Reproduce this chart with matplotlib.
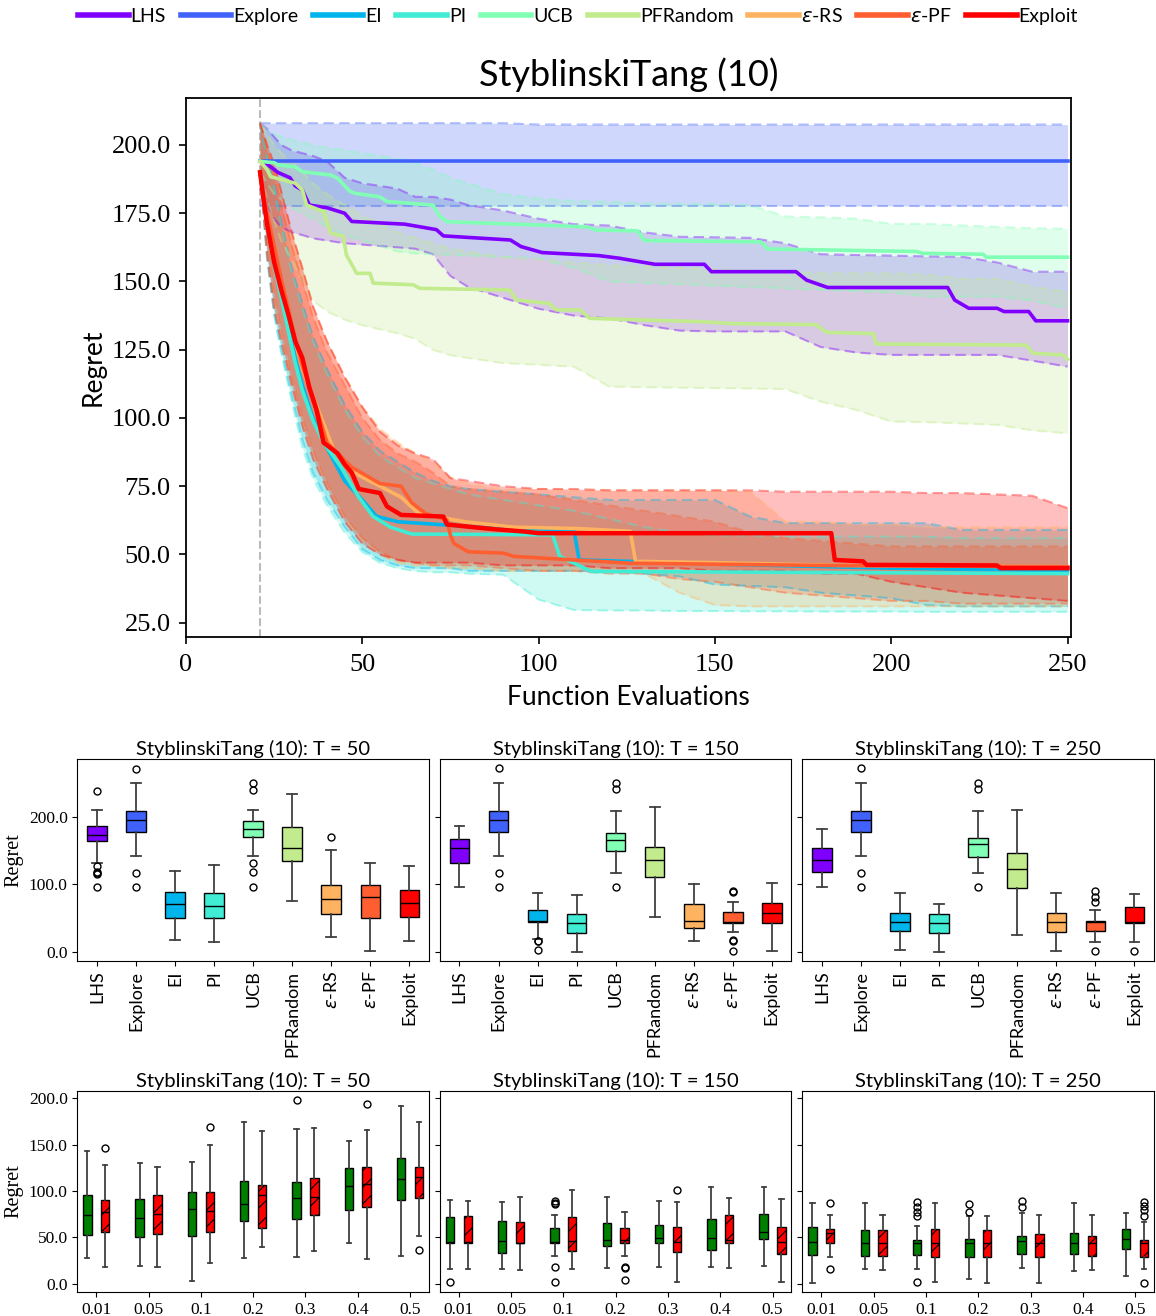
import numpy as np
import matplotlib
matplotlib.use('Agg')
import matplotlib.pyplot as plt
from matplotlib.lines import Line2D
from matplotlib.ticker import FormatStrFormatter

plt.rcParams['font.family'] = 'Liberation Serif'
plt.rcParams['hatch.linewidth'] = 0.8
SANS = 'Lato'

METHODS = ['LHS', 'Explore', 'EI', 'PI', 'UCB', 'PFRandom',
           r'$\epsilon$-RS', r'$\epsilon$-PF', 'Exploit']

# ---- median regret curves (knots) ----
LHS_X = [21, 23, 26, 29.5, 31, 33, 35, 40, 45, 47, 62, 71, 73, 92, 95, 101, 117, 123, 133, 147,
         149, 173, 176, 182, 216, 218, 222, 230, 232, 239, 241, 250]
LHS_MED = [194, 193, 190, 188, 185, 183.5, 178, 177, 175, 172, 171, 169, 166.7, 165.2, 162.8, 160.6,
           159.5, 158.5, 156.3, 156.3, 153.6, 153.6, 150.5, 147.8, 147.8, 143.2, 140.2, 140.2, 139,
           139, 135.6, 135.6]
EXPLORE_X = [21, 250]
EXPLORE_MED = [194, 194]
EI_X = [21, 23, 25, 27, 29, 31, 33, 36, 40, 45, 50, 54, 60, 83, 110, 111.5, 125, 150, 200, 250]
EI_MED = [190, 172, 158, 146, 134, 122, 112, 100, 89, 77, 70, 64, 62, 60, 59, 48, 47.5, 46.5, 45, 44]
PI_X = [21, 23, 25, 27, 29, 31, 33, 36, 39, 44, 49, 53, 58, 64, 104, 106, 112, 115, 250]
PI_MED = [190, 170, 156, 144, 132, 120, 110, 99, 91, 82, 71, 64, 60, 57.5, 57.2, 49.3, 45.6, 43.8, 43]
UCB_X = [21, 25, 26, 31, 33, 41, 43, 46.5, 48, 55, 57, 70, 72, 74, 114, 116, 128, 130, 163, 165,
         207, 209, 226, 227, 250]
UCB_MED = [194, 193.5, 192.7, 192, 190.2, 189, 187.8, 183, 182.3, 181, 179.3, 178, 173.8, 171.9, 170,
           168.9, 168.5, 165, 164.5, 161.9, 161, 160.3, 160, 158.9, 158.9]
PFR_X = [21, 23, 24, 31, 33, 34.2, 39, 41, 44.6, 45.5, 48.4, 52.2, 53.1, 64.4, 66.3, 91.8, 93.7, 103,
         105, 111.7, 114.5, 145.7, 155, 178.7, 181.6, 194.9, 195.8, 238.3, 240.2, 248.7, 250]
PFR_MED = [194, 191, 188.4, 186, 183.5, 178, 175.6, 167.7, 166.5, 159.7, 153, 153, 149.4, 148.8, 147.5,
           146.9, 143.2, 142, 139.6, 139.6, 136.5, 135.3, 134.6, 134.2, 131.4, 130.9, 127.1, 126.7,
           123.7, 123.1, 121.5]
ERS_X = [21, 23, 25, 27, 29, 31, 33, 36, 39, 42, 49, 55, 61, 66, 79, 93, 111, 126, 127.5, 150, 185, 250]
ERS_MED = [190, 174, 162, 150, 139, 128, 118, 108, 98, 88, 79, 75, 71, 65, 62, 60, 59.5, 58.5, 47.5,
           47, 46, 45.5]
EPF_X = [21, 23, 25, 27, 29, 31, 33, 36, 40, 47, 55, 61, 64, 68, 74, 75, 76, 80, 90, 93, 126, 180, 250]
EPF_MED = [190, 175, 163, 151, 140, 129, 119, 108, 91, 82, 76, 75, 69, 65, 62.7, 57, 54, 51, 50.5,
           49.3, 46.8, 46, 45.5]
EXPLOIT_X = [21, 22, 23, 25, 27, 29, 31, 33, 35, 37, 39, 41, 43, 45, 47, 49, 55, 57, 61, 73, 74, 80,
             88, 96, 100, 183, 184, 192, 193, 230, 231, 250]
EXPLOIT_MED = [190, 180, 171, 157, 147, 138, 128, 122, 111, 103, 91, 89, 87, 83, 80, 74, 72.5, 67.6,
               64.5, 63.9, 61, 60.2, 59.2, 58.4, 57.8, 57.8, 48, 47.5, 46.2, 46, 45, 45]

# ---- quartile bands ----
BAND_X = [21, 23, 25, 27, 30, 33, 36, 40, 45, 50, 55, 60, 65, 70, 75, 80, 90, 100, 110, 120, 130,
          140, 150, 160, 170, 180, 190, 200, 210, 220, 230, 240, 250]
LHS_LO = [184, 178, 173, 170, 168, 167, 165.8, 165, 164, 163.5, 163, 162.5, 162, 160, 152, 148, 144,
          140, 137.5, 136.5, 134, 132, 131.7, 131.7, 131.7, 126, 124, 123.1, 123.1, 123.1, 123.1, 121, 118.8]
LHS_HI = [208, 206, 203, 200, 198, 197, 196, 194, 188, 186, 185, 184, 181, 181, 180, 178, 176, 173,
          171, 170.5, 168, 166.4, 166.2, 166, 164, 160, 159.7, 159.5, 159.2, 159.1, 157, 153.6, 153.6]
EXPLORE_LO = [177.7, 177.7, 177.7, 177.7, 177.7, 177.7, 177.7, 177.7, 177.7, 177.7, 177.7, 177.7,
              177.7, 177.7, 177.7, 177.7, 177.7, 177.7, 177.7, 177.7, 177.7, 177.7, 177.7, 177.7,
              177.7, 177.7, 177.7, 177.7, 177.7, 177.7, 177.7, 177.7, 177.7]
EXPLORE_HI = [208, 208, 208, 208, 208, 208, 208, 208, 208, 208, 208, 208, 208, 208, 208, 208, 208,
              207.5, 207.5, 207.5, 207.5, 207.5, 207.5, 207.5, 207.5, 207.5, 207.5, 207.5, 207.5,
              207.5, 207.5, 207.5, 207.5]
EI_LO = [190, 158, 138, 125, 108, 92, 80, 70, 60, 52, 48, 46, 45, 45, 45, 44, 44, 44, 44, 44, 43, 42,
         39, 38.5, 38, 36, 35, 34, 31.5, 31, 31, 31, 31]
EI_HI = [208, 195, 185, 172, 155, 142, 130, 118, 105, 95, 88, 84, 80, 77, 75, 74, 73, 72, 71, 70, 70,
         70, 70, 63.9, 61.5, 61.5, 61.5, 61.5, 61.5, 59, 59, 59, 59]
PI_LO = [190, 160, 138, 124, 106, 89, 78, 68, 58, 51, 47, 45, 44, 43.5, 43.5, 43, 42.6, 33.5, 29.7,
         29.5, 29.5, 29.3, 29.3, 29.2, 29.2, 29.1, 29.1, 29.1, 29, 29, 29, 29, 29]
PI_HI = [208, 195, 184, 170, 153, 140, 128, 116, 103, 93, 86, 82, 78, 76, 74, 72, 70, 68, 66, 63, 60,
         58, 57, 57, 56.5, 56.5, 56.5, 56.5, 56.5, 56, 56, 56, 56]
UCB_LO = [190, 186, 182, 180, 177, 175, 173, 170, 167, 165, 163, 161, 160.3, 160, 159.8, 159.5, 159,
          158.5, 155, 150, 149.5, 149, 148.5, 148, 147.5, 147, 146.5, 146, 144.5, 144.5, 144.5, 143, 140.2]
UCB_HI = [208, 206, 204, 203, 201.8, 201, 200, 199, 198.2, 197, 196, 195, 193.5, 191, 188, 186, 182,
          180.5, 179.5, 179.2, 178.6, 178.5, 178.4, 178, 173.8, 173.5, 173, 171.1, 171.1, 170.5, 170,
          169.5, 169.3]
PFR_LO = [190, 180, 172, 165, 158, 150, 143, 139, 136, 134, 132.5, 131, 129, 125, 123, 122, 120.1,
          119.5, 118.8, 111.5, 111.3, 111.1, 111, 110.8, 110.6, 106, 103, 98.7, 98.5, 98, 97.5, 95.5, 94.4]
PFR_HI = [208, 204, 200, 197, 194, 190, 186, 182, 178, 174, 171, 168, 166, 164, 162, 161, 159, 158,
          157, 156, 155.5, 155, 154.5, 154, 153.5, 153, 153, 153, 152.5, 151, 151, 148, 146.3]
ERS_LO = [190, 162, 142, 130, 112, 98, 86, 75, 63, 55, 50, 47, 46, 46, 45, 45, 44, 44, 44, 44, 43, 36,
          31.5, 31, 31, 31, 31, 31, 31, 31, 31, 31, 31]
ERS_HI = [208, 200, 192, 182, 167, 154, 140, 128, 115, 104, 96, 91, 87, 84, 78, 76, 74, 74, 73.5,
          73.5, 73.5, 73.5, 73.5, 73, 62, 62, 61, 61, 60, 60, 60, 60, 60]
EPF_LO = [190, 165, 145, 132, 115, 100, 88, 76, 64, 56, 51, 48, 47, 46, 46, 46, 45, 44, 44, 43, 43,
          41, 40, 38, 36, 35, 34, 33, 33, 32, 32, 32, 32]
EPF_HI = [208, 198, 190, 178, 163, 150, 137, 124, 112, 100, 92, 87, 84, 80, 75, 74, 73, 72, 70, 68,
          66, 64, 62, 58, 56, 55, 54, 53, 53, 53, 53, 53, 53]
EXPLOIT_LO = [190, 160, 140, 128, 112, 97, 85, 74, 62, 54, 50, 48, 47, 47, 47, 47, 46, 46, 46, 45, 45,
              45, 44, 44, 44, 43, 43, 40, 38, 36, 35, 34, 33]
EXPLOIT_HI = [208, 200, 193, 183, 168, 155, 141, 128, 115, 104, 95, 90, 87, 85, 78, 77, 75, 74, 74,
              73.5, 73.5, 73.5, 73.5, 73.5, 73, 73, 73, 73, 72.5, 72.5, 72, 71.5, 67]

# ---- box plots per method at T = 50, 150, 250 ----
T_VALUES = [50, 150, 250]
T50_MED = [172.5, 195.1, 71.3, 68.3, 181.3, 153.3, 79.1, 81.1, 73.2]
T50_Q1 = [164.1, 177.9, 50.1, 51.1, 170.5, 134.2, 57.0, 51.1, 52.6]
T50_Q3 = [186.7, 208.8, 88.9, 87.0, 193.6, 185.3, 99.8, 99.3, 92.4]
T50_WLO = [132.2, 142.0, 18.2, 15.7, 142.0, 76.2, 22.6, 2.5, 16.7]
T50_WHI = [209.8, 249.1, 120.4, 128.7, 209.8, 232.9, 150.9, 131.2, 127.8]
T50_FLIERS = [[238.3, 127.3, 118.9, 116.5, 115.0, 96.8], [270.8, 117.4, 96.8], [], [],
              [249.1, 239.3, 131.2, 117.9, 96.8], [], [169.5], [], []]
T150_MED = [153.8, 195.1, 45.7, 43.2, 165.1, 135.6, 46.7, 44.2, 57.5]
T150_Q1 = [131.2, 177.9, 44.2, 28.5, 149.9, 111.1, 35.4, 43.2, 43.7]
T150_Q3 = [166.6, 207.9, 61.9, 57.0, 176.4, 155.8, 71.7, 60.0, 72.2]
T150_WLO = [96.8, 142.0, 19.0, 0.0, 117.4, 52.6, 16.2, 30.0, 2.5]
T150_WHI = [186.7, 249.1, 88.0, 85.0, 207.9, 214.7, 101.2, 74.7, 101.7]
T150_FLIERS = [[], [271.3, 117.4, 96.8], [17.2, 16.5, 3.4], [], [250.1, 240.3, 96.8], [], [],
               [90.0, 88.5, 18.7, 17.2, 2.5], []]
T250_MED = [135.6, 195.1, 45.2, 43.2, 159.2, 122.4, 44.7, 44.2, 44.2]
T250_Q1 = [118.9, 177.9, 31.4, 28.5, 140.5, 94.3, 30.5, 31.4, 43.7]
T250_Q3 = [153.3, 207.9, 58.5, 57.0, 169.0, 145.9, 58.5, 46.7, 67.3]
T250_WLO = [96.8, 142.0, 3.4, 0.0, 117.4, 25.6, 2.5, 15.7, 15.2]
T250_WHI = [182.3, 249.1, 88.0, 71.7, 207.9, 209.3, 88.0, 61.9, 86.0]
T250_FLIERS = [[], [271.3, 117.4, 96.8], [], [], [250.1, 240.3, 96.8], [], [],
               [90.0, 82.0, 74.2, 2.5], [2.5]]

# ---- paired box plots over epsilon ----
EPS_LABELS = ['0.01', '0.05', '0.1', '0.2', '0.3', '0.4', '0.5']
G50_MED = [73.7, 70.5, 80.9, 85.6, 92.1, 105.8, 112.6]
G50_Q1 = [52.2, 50.0, 51.1, 68.0, 69.4, 79.9, 90.6]
G50_Q3 = [96.0, 91.0, 98.6, 111.2, 109.4, 125.2, 136.0]
G50_WLO = [27.3, 19.1, 2.5, 28.1, 29.1, 43.9, 29.9]
G50_WHI = [143.5, 129.9, 130.9, 174.8, 166.9, 153.6, 191.9]
G50_FLIERS = [[], [], [], [], [198.2], [], []]
R50_MED = [77.7, 75.2, 78.4, 96.0, 93.9, 107.2, 114.7]
R50_Q1 = [55.4, 53.2, 56.1, 59.7, 73.7, 82.4, 92.8]
R50_Q3 = [90.3, 96.0, 98.9, 106.1, 114.4, 125.5, 125.5]
R50_WLO = [17.6, 17.6, 22.7, 39.9, 34.9, 27.0, 51.8]
R50_WHI = [128.4, 126.3, 150.0, 164.4, 168.3, 165.8, 174.1]
R50_FLIERS = [[146.4], [], [168.7], [], [], [193.5], [36.3]]
G150_MED = [45.3, 46.0, 45.3, 47.1, 48.9, 48.9, 55.4]
G150_Q1 = [44.2, 32.7, 43.5, 40.6, 43.5, 36.3, 47.8]
G150_Q3 = [72.3, 67.3, 60.4, 65.1, 63.7, 69.4, 74.8]
G150_WLO = [15.5, 15.8, 29.9, 16.5, 17.6, 17.6, 18.7]
G150_WHI = [90.3, 88.5, 74.1, 93.2, 89.2, 104.7, 104.3]
G150_FLIERS = [[1.4], [], [88.8, 87.4, 86.0, 17.6, 1.4], [], [], [], []]
R150_MED = [45.3, 44.2, 46.0, 47.1, 45.3, 47.1, 45.3]
R150_Q1 = [44.2, 43.5, 35.6, 43.5, 33.8, 44.2, 32.0]
R150_Q3 = [73.0, 66.5, 71.9, 59.7, 60.8, 73.7, 60.8]
R150_WLO = [15.5, 15.1, 15.5, 29.9, 1.4, 16.5, 2.2]
R150_WHI = [89.6, 93.2, 101.1, 77.7, 87.8, 92.8, 91.0]
R150_FLIERS = [[], [], [], [18.3, 16.5, 4.0], [101.4], [], []]
G250_MED = [44.6, 43.9, 43.5, 44.2, 46.0, 44.2, 47.8]
G250_Q1 = [30.6, 29.9, 30.9, 29.1, 31.7, 32.0, 37.1]
G250_Q3 = [61.2, 57.6, 46.8, 48.6, 51.1, 55.0, 59.0]
G250_WLO = [1.1, 15.5, 15.5, 5.4, 16.5, 13.3, 7.9]
G250_WHI = [86.7, 86.7, 62.2, 73.4, 76.3, 87.4, 76.6]
G250_FLIERS = [[], [], [88.5, 83.1, 77.7, 73.0, 1.8], [86.0, 77.0], [89.6, 82.7], [], []]
R250_MED = [54.3, 43.9, 43.9, 44.2, 44.2, 44.2, 43.5]
R250_Q1 = [43.9, 29.9, 29.1, 29.1, 29.1, 29.5, 29.1]
R250_Q3 = [58.6, 57.6, 58.6, 57.6, 53.2, 51.1, 46.8]
R250_WLO = [28.8, 14.7, 2.2, 1.1, 0.4, 15.1, 15.5]
R250_WHI = [73.7, 73.7, 87.4, 73.4, 73.7, 74.5, 66.2]
R250_FLIERS = [[86.7, 15.8], [], [], [], [], [], [88.5, 84.2, 79.5, 73.4, 1.1]]

colors = plt.cm.rainbow(np.linspace(0, 1, len(METHODS)))

fig = plt.figure(figsize=(11.56, 13.16), dpi=100)

# ---------------- main convergence plot ----------------
ax = fig.add_axes([0.1609, 0.5160, 0.7656, 0.4095])
med_x = [LHS_X, EXPLORE_X, EI_X, PI_X, UCB_X, PFR_X, ERS_X, EPF_X, EXPLOIT_X]
med_y = [LHS_MED, EXPLORE_MED, EI_MED, PI_MED, UCB_MED, PFR_MED, ERS_MED, EPF_MED, EXPLOIT_MED]
band_lo = [LHS_LO, EXPLORE_LO, EI_LO, PI_LO, UCB_LO, PFR_LO, ERS_LO, EPF_LO, EXPLOIT_LO]
band_hi = [LHS_HI, EXPLORE_HI, EI_HI, PI_HI, UCB_HI, PFR_HI, ERS_HI, EPF_HI, EXPLOIT_HI]

ax.axvline(21, color='#bbbbbb', ls='--', lw=1.5, zorder=0)
for i in range(len(METHODS)):
    c = colors[i]
    ax.fill_between(BAND_X, band_lo[i], band_hi[i], color=c, alpha=0.25, lw=0)
    ax.plot(BAND_X, band_lo[i], ls='--', dashes=(5, 2.6), color=c, alpha=0.4, lw=1.5)
    ax.plot(BAND_X, band_hi[i], ls='--', dashes=(5, 2.6), color=c, alpha=0.4, lw=1.5)
for i in range(len(METHODS)):
    lw = 3.2 if METHODS[i] == 'Exploit' else 2.6
    ax.plot(med_x[i], med_y[i], color=colors[i], lw=lw)

ax.set_xlim(0, 251)
ax.set_ylim(19.8, 217.2)
ax.set_xticks([0, 50, 100, 150, 200, 250])
ax.set_yticks([25, 50, 75, 100, 125, 150, 175, 200])
ax.yaxis.set_major_formatter(FormatStrFormatter('%.1f'))
ax.tick_params(labelsize=19, length=5, width=1.2)
ax.tick_params(axis='x', pad=7)
ax.tick_params(axis='y', pad=6)
for s in ax.spines.values():
    s.set_linewidth(1.3)
ax.set_xlabel('Function Evaluations', fontsize=19, family=SANS, labelpad=7)
ax.set_ylabel('Regret', fontsize=19, family=SANS)
ax.set_title('StyblinskiTang (10)', fontsize=26, family=SANS, pad=9)

handles = [Line2D([], [], color=colors[i], lw=4) for i in range(len(METHODS))]
fig.legend(handles, METHODS, loc='upper center', bbox_to_anchor=(0.5, 1.008), ncol=9,
           frameon=False, handlelength=2.6, handletextpad=0.1, columnspacing=0.75,
           prop={'family': SANS, 'size': 14})

# ---------------- box plots by method ----------------
lefts = [0.067, 0.3806, 0.6942]
w = 0.304
row1 = [T50_MED, T150_MED, T250_MED]
row1_q1 = [T50_Q1, T150_Q1, T250_Q1]
row1_q3 = [T50_Q3, T150_Q3, T250_Q3]
row1_wlo = [T50_WLO, T150_WLO, T250_WLO]
row1_whi = [T50_WHI, T150_WHI, T250_WHI]
row1_fl = [T50_FLIERS, T150_FLIERS, T250_FLIERS]

box_kw = dict(patch_artist=True, showfliers=True,
              medianprops=dict(color='black', lw=1),
              whiskerprops=dict(color='0.25', lw=1.3),
              capprops=dict(color='0.25', lw=1.3),
              flierprops=dict(marker='o', mfc='none', mec='black', ms=5, mew=1))


def make_stats(med, q1, q3, wlo, whi, fl):
    return [dict(med=med[k], q1=q1[k], q3=q3[k], whislo=wlo[k], whishi=whi[k], fliers=fl[k])
            for k in range(len(med))]


for j, T in enumerate(T_VALUES):
    bax = fig.add_axes([lefts[j], 0.2698, w, 0.1533])
    stats = make_stats(row1[j], row1_q1[j], row1_q3[j], row1_wlo[j], row1_whi[j], row1_fl[j])
    bp = bax.bxp(stats, positions=range(len(METHODS)), widths=0.5, **box_kw)
    for patch, c in zip(bp['boxes'], colors):
        patch.set_facecolor(c)
        patch.set_edgecolor('black')
        patch.set_linewidth(1)
    bax.set_xlim(-0.5, len(METHODS) - 0.5)
    bax.set_ylim(-12.8, 284.7)
    bax.set_yticks([0, 100, 200])
    bax.yaxis.set_major_formatter(FormatStrFormatter('%.1f'))
    bax.set_xticks(range(len(METHODS)))
    bax.set_xticklabels(METHODS, rotation=90, family=SANS, fontsize=13)
    bax.tick_params(axis='y', labelsize=12.5)
    bax.set_title(f'StyblinskiTang (10): T = {T}', fontsize=14.5, family=SANS, pad=3)
    if j == 0:
        bax.set_ylabel('Regret', fontsize=14.5)
    else:
        bax.tick_params(axis='y', labelleft=False)

# ---------------- paired box plots by epsilon ----------------
g_med = [G50_MED, G150_MED, G250_MED]
g_q1 = [G50_Q1, G150_Q1, G250_Q1]
g_q3 = [G50_Q3, G150_Q3, G250_Q3]
g_wlo = [G50_WLO, G150_WLO, G250_WLO]
g_whi = [G50_WHI, G150_WHI, G250_WHI]
g_fl = [G50_FLIERS, G150_FLIERS, G250_FLIERS]
r_med = [R50_MED, R150_MED, R250_MED]
r_q1 = [R50_Q1, R150_Q1, R250_Q1]
r_q3 = [R50_Q3, R150_Q3, R250_Q3]
r_wlo = [R50_WLO, R150_WLO, R250_WLO]
r_whi = [R50_WHI, R150_WHI, R250_WHI]
r_fl = [R50_FLIERS, R150_FLIERS, R250_FLIERS]

pos = np.arange(len(EPS_LABELS))
for j, T in enumerate(T_VALUES):
    eax = fig.add_axes([lefts[j], 0.018, w, 0.1532])
    gs = make_stats(g_med[j], g_q1[j], g_q3[j], g_wlo[j], g_whi[j], g_fl[j])
    rs = make_stats(r_med[j], r_q1[j], r_q3[j], r_wlo[j], r_whi[j], r_fl[j])
    bg = eax.bxp(gs, positions=pos - 0.17, widths=0.16, **box_kw)
    br = eax.bxp(rs, positions=pos + 0.17, widths=0.16, **box_kw)
    for patch in bg['boxes']:
        patch.set_facecolor('green')
        patch.set_edgecolor('black')
        patch.set_linewidth(1)
    for patch in br['boxes']:
        patch.set_facecolor('red')
        patch.set_edgecolor('black')
        patch.set_linewidth(1)
        patch.set_hatch('//')
    eax.set_xlim(-0.36, len(EPS_LABELS) - 1 + 0.36)
    eax.set_ylim(-9.4, 208.3)
    eax.set_yticks([0, 50, 100, 150, 200])
    eax.yaxis.set_major_formatter(FormatStrFormatter('%.1f'))
    eax.set_xticks(pos)
    eax.set_xticklabels(EPS_LABELS)
    eax.tick_params(labelsize=12.5)
    eax.set_title(f'StyblinskiTang (10): T = {T}', fontsize=14.5, family=SANS, pad=3)
    if j == 0:
        eax.set_ylabel('Regret', fontsize=14.5)
    else:
        eax.tick_params(axis='y', labelleft=False)

fig.savefig('out.png', dpi=100)
